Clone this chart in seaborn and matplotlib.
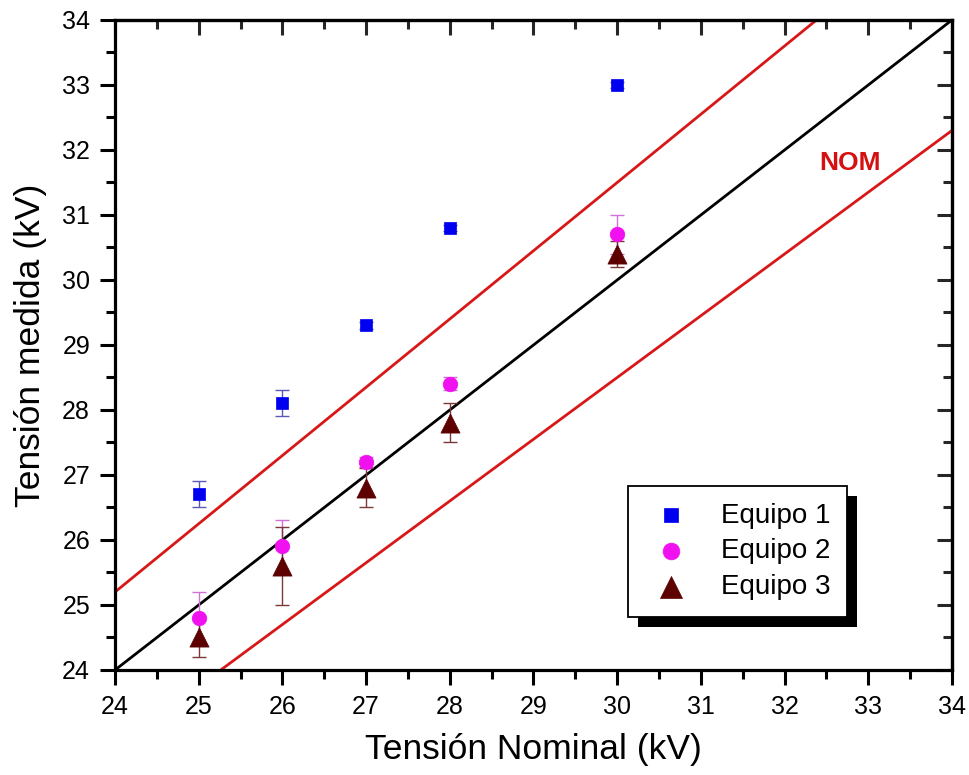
import numpy as np
import pandas as pd
import matplotlib
matplotlib.use("Agg")
import matplotlib.pyplot as plt
import seaborn as sns
from matplotlib.patches import Rectangle
from matplotlib.transforms import IdentityTransform
from matplotlib.ticker import MultipleLocator

# ---- data ----
nominal = [25, 26, 27, 28, 30]
equipo1 = [26.7, 28.1, 29.3, 30.8, 33.0]
equipo1_err = [0.2, 0.2, 0.05, 0.05, 0.05]
equipo2 = [24.8, 25.9, 27.2, 28.4, 30.7]
equipo2_err = [0.4, 0.4, 0.08, 0.1, 0.3]
equipo3 = [24.5, 25.6, 26.8, 27.8, 30.4]
equipo3_err = [0.3, 0.6, 0.3, 0.3, 0.2]
series_names = ["Equipo 1", "Equipo 2", "Equipo 3"]
ref_range = [24, 34]
nom_tolerance = 0.05
x_ticks = [24, 25, 26, 27, 28, 29, 30, 31, 32, 33, 34]
y_ticks = [24, 25, 26, 27, 28, 29, 30, 31, 32, 33, 34]

colors = {"Equipo 1": "#0000f0", "Equipo 2": "#f010f0", "Equipo 3": "#5c0000"}
err_colors = {"Equipo 1": "#5a5ab4", "Equipo 2": "#d070d8", "Equipo 3": "#7a3838"}
markers = {"Equipo 1": "s", "Equipo 2": "o", "Equipo 3": "^"}
sizes = {"Equipo 1": 80, "Equipo 2": 110, "Equipo 3": 190}

df = pd.DataFrame({
    "nominal": nominal * 3,
    "medida": equipo1 + equipo2 + equipo3,
    "err": equipo1_err + equipo2_err + equipo3_err,
    "equipo": sum([[n] * len(nominal) for n in series_names], []),
})

sns.set_theme(style="white")
plt.rcParams["font.family"] = ["Liberation Sans", "DejaVu Sans"]
plt.rcParams["text.color"] = "black"
plt.rcParams["axes.labelcolor"] = "black"

fig = plt.figure(figsize=(9.7, 7.75), dpi=100)
ax = fig.add_axes([0.1186, 0.1355, 0.8628, 0.8387])

# reference lines
ref = np.array(ref_range, dtype=float)
sns.lineplot(x=ref, y=ref, color="black", lw=2.0, ax=ax, zorder=2)
sns.lineplot(x=ref, y=ref * (1 + nom_tolerance), color="#d81818", lw=2.0, ax=ax, zorder=2)
sns.lineplot(x=ref, y=ref * (1 - nom_tolerance), color="#d81818", lw=2.0, ax=ax, zorder=2)

# error bars
for name in series_names:
    sub = df[df.equipo == name]
    ax.errorbar(sub.nominal, sub.medida, yerr=sub.err, fmt="none",
                ecolor=err_colors[name], elinewidth=1.0, capsize=4.7,
                capthick=1.0, zorder=3)

# points
for name in series_names:
    sub = df[df.equipo == name]
    sns.scatterplot(data=sub, x="nominal", y="medida", marker=markers[name],
                    color=colors[name], s=sizes[name], edgecolor=colors[name],
                    linewidth=0.5, ax=ax, zorder=4, label=name)

ax.set_xlim(24, 34)
ax.set_ylim(24, 34)
ax.set_xticks(x_ticks)
ax.set_yticks(y_ticks)
ax.xaxis.set_minor_locator(MultipleLocator(0.5))
ax.yaxis.set_minor_locator(MultipleLocator(0.5))
ax.tick_params(which="major", direction="out", length=11, width=2.2,
               labelsize=18, pad=7, color="black", labelcolor="black")
ax.tick_params(which="minor", direction="out", length=6.5, width=2.2, color="black")
ax.tick_params(top=False, right=False, bottom=True, left=True, which="both")
for sp in ax.spines.values():
    sp.set_linewidth(2.3)
    sp.set_color("black")

secx = ax.secondary_xaxis("top")
secx.set_xticks(x_ticks)
secx.xaxis.set_minor_locator(MultipleLocator(0.5))
secx.tick_params(which="major", direction="in", length=11, width=2.2, labeltop=False)
secx.tick_params(which="minor", direction="in", length=6.5, width=2.2)
secx.spines["top"].set_linewidth(2.3)
secy = ax.secondary_yaxis("right")
secy.set_yticks(y_ticks)
secy.yaxis.set_minor_locator(MultipleLocator(0.5))
secy.tick_params(which="major", direction="in", length=11, width=2.2, labelright=False)
secy.tick_params(which="minor", direction="in", length=6.5, width=2.2)
secy.spines["right"].set_linewidth(2.3)

ax.set_xlabel("Tensión Nominal (kV)", fontsize=25.5, labelpad=10, color="black")
ax.set_ylabel("Tensión medida (kV)", fontsize=25.5, labelpad=11, color="black")

ax.text(32.78, 31.8, "NOM", color="#d41010", fontsize=19, fontweight="bold",
        ha="center", va="center")

leg = ax.legend(loc="upper left", bbox_to_anchor=(0.613, 0.283), borderaxespad=0,
                fontsize=20, frameon=True, fancybox=False, framealpha=1,
                edgecolor="black", borderpad=0.6, handlelength=1.9,
                handletextpad=0.85, labelspacing=0.35, markerscale=1.15)
leg.get_frame().set_linewidth(1.3)
leg.set_zorder(6)
for t in leg.get_texts():
    t.set_color("black")

fig.canvas.draw()
bb = leg.get_window_extent()
shadow = Rectangle((bb.x0 + 10, bb.y0 - 10), bb.width, bb.height,
                   transform=IdentityTransform(), facecolor="black",
                   edgecolor="none", zorder=5.5, clip_on=False)
ax.add_artist(shadow)

fig.savefig("out.png", dpi=100)
